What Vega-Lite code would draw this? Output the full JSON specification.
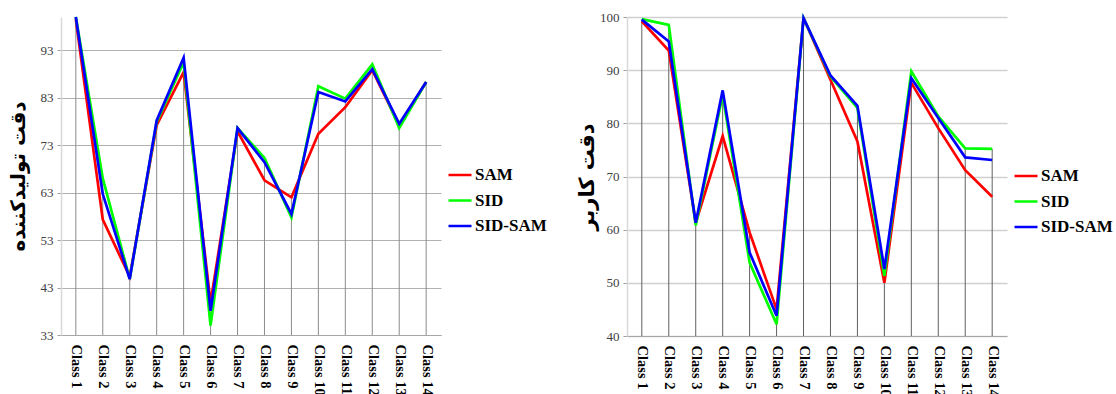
{
  "$schema": "https://vega.github.io/schema/vega-lite/v6.json",
  "padding": {"left": 8, "top": 11, "right": 0, "bottom": 0},
  "bounds": "flush",
  "spacing": 186,
  "config": {
    "view": {"stroke": null},
    "font": "Liberation Serif",
    "background": "#ffffff"
  },
  "datasets": {
    "producer": [
      {"cls": "Class 1", "series": "SAM", "value": 99.5},
      {"cls": "Class 1", "series": "SID", "value": 100},
      {"cls": "Class 1", "series": "SID-SAM", "value": 100},
      {"cls": "Class 2", "series": "SAM", "value": 57.3},
      {"cls": "Class 2", "series": "SID", "value": 66},
      {"cls": "Class 2", "series": "SID-SAM", "value": 62.7},
      {"cls": "Class 3", "series": "SAM", "value": 45.3},
      {"cls": "Class 3", "series": "SID", "value": 44.8},
      {"cls": "Class 3", "series": "SID-SAM", "value": 44.8},
      {"cls": "Class 4", "series": "SAM", "value": 77.2},
      {"cls": "Class 4", "series": "SID", "value": 77.9},
      {"cls": "Class 4", "series": "SID-SAM", "value": 78.2},
      {"cls": "Class 5", "series": "SAM", "value": 88.4},
      {"cls": "Class 5", "series": "SID", "value": 90.5},
      {"cls": "Class 5", "series": "SID-SAM", "value": 91.4},
      {"cls": "Class 6", "series": "SAM", "value": 39.8},
      {"cls": "Class 6", "series": "SID", "value": 35},
      {"cls": "Class 6", "series": "SID-SAM", "value": 38.1},
      {"cls": "Class 7", "series": "SAM", "value": 75.9},
      {"cls": "Class 7", "series": "SID", "value": 76.6},
      {"cls": "Class 7", "series": "SID-SAM", "value": 76.6},
      {"cls": "Class 8", "series": "SAM", "value": 65.6},
      {"cls": "Class 8", "series": "SID", "value": 70.3},
      {"cls": "Class 8", "series": "SID-SAM", "value": 69.4},
      {"cls": "Class 9", "series": "SAM", "value": 62.0},
      {"cls": "Class 9", "series": "SID", "value": 57.8},
      {"cls": "Class 9", "series": "SID-SAM", "value": 58.5},
      {"cls": "Class 10", "series": "SAM", "value": 75.4},
      {"cls": "Class 10", "series": "SID", "value": 85.4},
      {"cls": "Class 10", "series": "SID-SAM", "value": 84.2},
      {"cls": "Class 11", "series": "SAM", "value": 81.0},
      {"cls": "Class 11", "series": "SID", "value": 82.8},
      {"cls": "Class 11", "series": "SID-SAM", "value": 82.2},
      {"cls": "Class 12", "series": "SAM", "value": 88.8},
      {"cls": "Class 12", "series": "SID", "value": 90.0},
      {"cls": "Class 12", "series": "SID-SAM", "value": 89.0},
      {"cls": "Class 13", "series": "SAM", "value": 77.2},
      {"cls": "Class 13", "series": "SID", "value": 76.6},
      {"cls": "Class 13", "series": "SID-SAM", "value": 77.5},
      {"cls": "Class 14", "series": "SAM", "value": 86.3},
      {"cls": "Class 14", "series": "SID", "value": 86.3},
      {"cls": "Class 14", "series": "SID-SAM", "value": 86.3}
    ],
    "user": [
      {"cls": "Class 1", "series": "SAM", "value": 99.2},
      {"cls": "Class 1", "series": "SID", "value": 99.6},
      {"cls": "Class 1", "series": "SID-SAM", "value": 99.5},
      {"cls": "Class 2", "series": "SAM", "value": 93.7},
      {"cls": "Class 2", "series": "SID", "value": 98.5},
      {"cls": "Class 2", "series": "SID-SAM", "value": 95.4},
      {"cls": "Class 3", "series": "SAM", "value": 61.3},
      {"cls": "Class 3", "series": "SID", "value": 60.8},
      {"cls": "Class 3", "series": "SID-SAM", "value": 61.3},
      {"cls": "Class 4", "series": "SAM", "value": 77.6},
      {"cls": "Class 4", "series": "SID", "value": 85.4},
      {"cls": "Class 4", "series": "SID-SAM", "value": 86.2},
      {"cls": "Class 5", "series": "SAM", "value": 59.5},
      {"cls": "Class 5", "series": "SID", "value": 53.8},
      {"cls": "Class 5", "series": "SID-SAM", "value": 55.7},
      {"cls": "Class 6", "series": "SAM", "value": 45.0},
      {"cls": "Class 6", "series": "SID", "value": 42.2},
      {"cls": "Class 6", "series": "SID-SAM", "value": 43.8},
      {"cls": "Class 7", "series": "SAM", "value": 99.8},
      {"cls": "Class 7", "series": "SID", "value": 99.8},
      {"cls": "Class 7", "series": "SID-SAM", "value": 99.8},
      {"cls": "Class 8", "series": "SAM", "value": 88.2},
      {"cls": "Class 8", "series": "SID", "value": 88.8},
      {"cls": "Class 8", "series": "SID-SAM", "value": 89.0},
      {"cls": "Class 9", "series": "SAM", "value": 76.6},
      {"cls": "Class 9", "series": "SID", "value": 82.9},
      {"cls": "Class 9", "series": "SID-SAM", "value": 83.3},
      {"cls": "Class 10", "series": "SAM", "value": 50.0},
      {"cls": "Class 10", "series": "SID", "value": 51.3},
      {"cls": "Class 10", "series": "SID-SAM", "value": 52.6},
      {"cls": "Class 11", "series": "SAM", "value": 87.6},
      {"cls": "Class 11", "series": "SID", "value": 89.8},
      {"cls": "Class 11", "series": "SID-SAM", "value": 88.5},
      {"cls": "Class 12", "series": "SAM", "value": 79.1},
      {"cls": "Class 12", "series": "SID", "value": 81.3},
      {"cls": "Class 12", "series": "SID-SAM", "value": 81.0},
      {"cls": "Class 13", "series": "SAM", "value": 71.2},
      {"cls": "Class 13", "series": "SID", "value": 75.3},
      {"cls": "Class 13", "series": "SID-SAM", "value": 73.6},
      {"cls": "Class 14", "series": "SAM", "value": 66.2},
      {"cls": "Class 14", "series": "SID", "value": 75.2},
      {"cls": "Class 14", "series": "SID-SAM", "value": 73.1}
    ]
  },
  "hconcat": [
    {
      "width": 380,
      "height": 318,
      "data": {"name": "producer"},
      "layer": [
        {
          "mark": {"type": "rule", "color": "#8c8c8c", "strokeWidth": 1},
          "encoding": {
            "x": {
              "field": "cls", "type": "ordinal",
              "sort": ["Class 1","Class 2","Class 3","Class 4","Class 5","Class 6","Class 7","Class 8","Class 9","Class 10","Class 11","Class 12","Class 13","Class 14"],
              "scale": {"type": "point", "padding": 0.55},
              "axis": {"title": null, "labelAngle": 90, "labelFont": "Liberation Serif", "labelFontWeight": "bold", "labelFontSize": 14.5, "labelColor": "#000000", "labelPadding": 9, "labelOverlap": false, "ticks": false, "grid": false, "domainColor": "#a6a6a6", "domainWidth": 1}
            },
            "y": {
              "aggregate": "max", "field": "value", "type": "quantitative",
              "scale": {"domain": [33, 100], "nice": false, "zero": false},
              "axis": {"title": "دقت تولیدکننده", "values": [33, 43, 53, 63, 73, 83, 93], "grid": true, "gridColor": "#b0b0b0", "gridWidth": 1, "domainColor": "#d9d9d9", "domainWidth": 1.5, "tickColor": "#a0a0a0", "tickSize": 4, "labelFont": "Liberation Serif", "labelFontSize": 13, "labelColor": "#404040", "labelPadding": 4, "titleFont": "DejaVu Sans", "titleFontSize": 20, "titleFontWeight": "bold", "titleColor": "#000000", "titlePadding": 12}
            },
            "y2": {"datum": 33}
          }
        },
        {
          "mark": {"type": "line", "strokeWidth": 2.7},
          "encoding": {
            "x": {"field": "cls", "type": "ordinal", "sort": ["Class 1","Class 2","Class 3","Class 4","Class 5","Class 6","Class 7","Class 8","Class 9","Class 10","Class 11","Class 12","Class 13","Class 14"]},
            "y": {"field": "value", "type": "quantitative", "axis": {"title": "دقت تولیدکننده"}},
            "color": {
              "field": "series", "type": "nominal",
              "scale": {"domain": ["SAM", "SID", "SID-SAM"], "range": ["#ff0000", "#00ff00", "#0000ff"]},
              "legend": {"title": null, "orient": "none", "legendX": 386, "legendY": 145, "symbolType": "stroke", "symbolSize": 529, "symbolStrokeWidth": 2.5, "labelFont": "Liberation Serif", "labelFontSize": 17, "labelFontWeight": "bold", "labelColor": "#000000", "labelOffset": 2, "rowPadding": 4.5}
            }
          }
        }
      ]
    },
    {
      "width": 380,
      "height": 319,
      "data": {"name": "user"},
      "layer": [
        {
          "mark": {"type": "rule", "color": "#606060", "strokeWidth": 1},
          "encoding": {
            "x": {
              "field": "cls", "type": "ordinal",
              "sort": ["Class 1","Class 2","Class 3","Class 4","Class 5","Class 6","Class 7","Class 8","Class 9","Class 10","Class 11","Class 12","Class 13","Class 14"],
              "scale": {"type": "point", "padding": 0.55},
              "axis": {"title": null, "labelAngle": 90, "labelFont": "Liberation Serif", "labelFontWeight": "bold", "labelFontSize": 14.5, "labelColor": "#000000", "labelPadding": 9, "labelOverlap": false, "ticks": false, "grid": false, "domainColor": "#a6a6a6", "domainWidth": 1}
            },
            "y": {
              "aggregate": "max", "field": "value", "type": "quantitative",
              "scale": {"domain": [40, 100], "nice": false, "zero": false},
              "axis": {"title": "دقت کاربر", "values": [40, 50, 60, 70, 80, 90, 100], "grid": true, "gridColor": "#d0d0d0", "gridWidth": 1.5, "domainColor": "#d9d9d9", "domainWidth": 1.5, "tickColor": "#a0a0a0", "tickSize": 4, "labelFont": "Liberation Serif", "labelFontSize": 13, "labelColor": "#404040", "labelPadding": 4, "titleFont": "DejaVu Sans", "titleFontSize": 21, "titleFontWeight": "bold", "titleColor": "#000000", "titlePadding": 2}
            },
            "y2": {"datum": 40}
          }
        },
        {
          "mark": {"type": "line", "strokeWidth": 2.7},
          "encoding": {
            "x": {"field": "cls", "type": "ordinal", "sort": ["Class 1","Class 2","Class 3","Class 4","Class 5","Class 6","Class 7","Class 8","Class 9","Class 10","Class 11","Class 12","Class 13","Class 14"]},
            "y": {"field": "value", "type": "quantitative", "axis": {"title": "دقت کاربر"}},
            "color": {
              "field": "series", "type": "nominal",
              "scale": {"domain": ["SAM", "SID", "SID-SAM"], "range": ["#ff0000", "#00ff00", "#0000ff"]},
              "legend": {"title": null, "orient": "none", "legendX": 386, "legendY": 146, "symbolType": "stroke", "symbolSize": 529, "symbolStrokeWidth": 2.5, "labelFont": "Liberation Serif", "labelFontSize": 17, "labelFontWeight": "bold", "labelColor": "#000000", "labelOffset": 2, "rowPadding": 4.5}
            }
          }
        }
      ]
    }
  ],
  "resolve": {
    "scale": {"color": "independent", "y": "independent", "x": "independent"},
    "legend": {"color": "independent"}
  }
}
